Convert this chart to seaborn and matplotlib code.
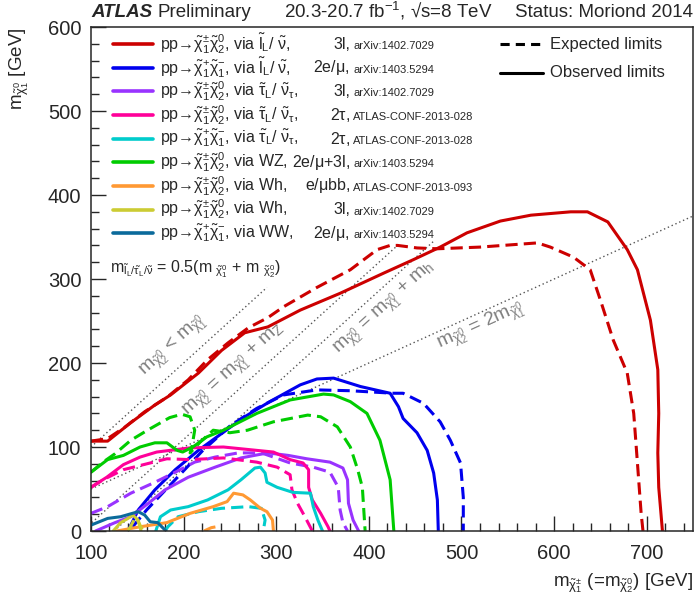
import numpy as np
import matplotlib
matplotlib.use("Agg")
import matplotlib.pyplot as plt
import seaborn as sns

# ---- exclusion contours (m_chi1pm, m_chi10) in GeV ----
slep3l_obs_x = [100, 118, 143, 169, 186, 216, 241, 266, 291, 326, 369, 416, 448, 477, 506, 542, 575, 618, 636, 658, 679, 690, 704, 712, 713, 712, 713, 717]
slep3l_obs_y = [107, 107, 129, 150, 162, 188, 215, 236, 243, 263, 283, 307, 323, 338, 355, 369, 376, 380, 380, 368, 335, 311, 251, 192, 140, 93, 52, 0]
slep3l_exp_x = [100, 118, 137, 158, 183, 205, 226, 248, 270, 291, 308, 344, 380, 409, 423, 431, 452, 474, 520, 582, 596, 621, 639, 650, 664, 679, 686, 690, 694, 696]
slep3l_exp_y = [107, 110, 124, 142, 160, 180, 204, 224, 242, 254, 267, 290, 311, 335, 340, 340, 337, 336, 338, 343, 338, 326, 311, 275, 227, 188, 140, 81, 21, 0]

slep2l_obs_x = [140, 151, 169, 191, 216, 241, 266, 293, 326, 344, 362, 391, 423, 432, 437, 452, 463, 470, 474, 475]
slep2l_obs_y = [0, 25, 49, 73, 96, 116, 136, 154, 174, 181, 182, 172, 164, 148, 134, 117, 96, 69, 37, 0]
slep2l_exp_x = [145, 160, 190, 220, 250, 279, 308, 344, 380, 426, 437, 459, 477, 488, 499, 502, 502]
slep2l_exp_y = [5, 25, 60, 95, 125, 146, 162, 168, 167, 164, 164, 152, 130, 108, 81, 40, 0]

stau3l_obs_x = [105, 126, 143, 162, 180, 205, 234, 262, 291, 313, 333, 358, 372, 377, 378, 383, 389]
stau3l_obs_y = [0, 10, 17, 33, 49, 64, 76, 87, 93, 90, 86, 82, 75, 61, 33, 13, 0]
stau3l_exp_x = [100, 118, 143, 169, 191, 212, 234, 259, 284, 315, 340, 358, 367, 369, 372, 377]
stau3l_exp_y = [21, 29, 45, 58, 70, 82, 88, 93, 93, 81, 76, 70, 52, 25, 10, 0]

stau2t_c2_obs_x = [100, 117, 135, 153, 171, 207, 243, 279, 297, 315, 329, 335, 335, 339, 348, 356, 358]
stau2t_c2_obs_y = [52, 64, 79, 88, 94, 99, 100, 96, 94, 85, 81, 73, 52, 37, 21, 5, 0]
stau2t_c2_exp_x = [100, 113, 135, 164, 182, 207, 243, 279, 301, 315, 317, 323, 331, 339]
stau2t_c2_exp_y = [52, 61, 73, 81, 86, 85, 87, 82, 76, 67, 49, 33, 17, 0]

stau2t_c1_obs_x = [170, 175, 186, 205, 226, 248, 262, 277, 283, 288, 290, 301, 318, 337, 340, 345, 350]
stau2t_c1_obs_y = [0, 17, 25, 29, 37, 49, 61, 75, 76, 69, 58, 52, 46, 45, 29, 13, 0]
stau2t_c1_exp_x = [180, 183, 194, 216, 241, 270, 284, 288, 286]
stau2t_c1_exp_y = [0, 5, 17, 23, 27, 29, 27, 13, 0]

wz_obs_x = [100, 118, 135, 153, 169, 182, 193, 199, 210, 225, 243, 279, 315, 351, 362, 380, 398, 412, 423, 427]
wz_obs_y = [70, 85, 90, 100, 105, 105, 96, 94, 100, 112, 120, 140, 156, 163, 162, 154, 140, 108, 61, 0]
wz_exp_x = [100, 113, 126, 143, 161, 185, 198, 207, 212, 209, 207, 218, 232, 250, 269, 297, 334, 348, 366, 380, 388, 393, 396]
wz_exp_y = [70, 82, 92, 108, 120, 135, 139, 136, 120, 100, 93, 106, 120, 117, 120, 130, 138, 136, 124, 100, 73, 52, 0]

whbb_obs_x = [128, 153, 182, 207, 232, 247, 254, 264, 272, 283, 290, 296, 297]
whbb_obs_y = [0, 5, 10, 21, 29, 35, 45, 43, 37, 27, 23, 13, 0]
whbb_exp_x = [222, 230, 240]
whbb_exp_y = [0, 4, 6]

wh3l_obs_x = [124, 132, 140, 145, 151, 154]
wh3l_obs_y = [0, 10, 15, 19, 13, 0]
wh3l_exp_x = [140, 145, 148, 153, 156]
wh3l_exp_y = [0, 10, 17, 7, 0]

ww_obs_x = [100, 118, 132, 151, 158, 164, 172, 181]
ww_obs_y = [7, 15, 17, 23, 19, 11, 10, 0]

colors = ["#cc0000", "#0000ee", "#9933ff", "#ff0099", "#00cccc",
          "#00cc00", "#ff9933", "#cccc33", "#0b6a9b"]

c1c2 = r"$\tilde{\chi}_1^{\pm}\tilde{\chi}_2^{0}$"
c1c1 = r"$\tilde{\chi}_1^{+}\tilde{\chi}_1^{-}$"
processes = [
    "pp→" + c1c2 + r", via $\tilde{l}_L$/ $\tilde{\nu}$,",
    "pp→" + c1c1 + r", via $\tilde{l}_L$/ $\tilde{\nu}$,",
    "pp→" + c1c2 + r", via $\tilde{\tau}_L$/ $\tilde{\nu}_{\tau}$,",
    "pp→" + c1c2 + r", via $\tilde{\tau}_L$/ $\tilde{\nu}_{\tau}$,",
    "pp→" + c1c1 + r", via $\tilde{\tau}_L$/ $\tilde{\nu}_{\tau}$,",
    "pp→" + c1c2 + ", via WZ,",
    "pp→" + c1c2 + ", via Wh,",
    "pp→" + c1c2 + ", via Wh,",
    "pp→" + c1c1 + ", via WW,",
]
channels = ["3l,", r"2e/$\mu$,", "3l,", r"2$\tau$,", r"2$\tau$,",
            r"2e/$\mu$+3l,", r"e/$\mu$bb,", "3l,", r"2e/$\mu$,"]
refs = ["arXiv:1402.7029", "arXiv:1403.5294", "arXiv:1402.7029",
        "ATLAS-CONF-2013-028", "ATLAS-CONF-2013-028", "arXiv:1403.5294",
        "ATLAS-CONF-2013-093", "arXiv:1402.7029", "arXiv:1403.5294"]

curves = [
    (0, slep3l_obs_x, slep3l_obs_y, "-"), (0, slep3l_exp_x, slep3l_exp_y, "--"),
    (1, slep2l_obs_x, slep2l_obs_y, "-"), (1, slep2l_exp_x, slep2l_exp_y, "--"),
    (2, stau3l_obs_x, stau3l_obs_y, "-"), (2, stau3l_exp_x, stau3l_exp_y, "--"),
    (3, stau2t_c2_obs_x, stau2t_c2_obs_y, "-"), (3, stau2t_c2_exp_x, stau2t_c2_exp_y, "--"),
    (4, stau2t_c1_obs_x, stau2t_c1_obs_y, "-"), (4, stau2t_c1_exp_x, stau2t_c1_exp_y, "--"),
    (5, wz_obs_x, wz_obs_y, "-"), (5, wz_exp_x, wz_exp_y, "--"),
    (6, whbb_obs_x, whbb_obs_y, "-"), (6, whbb_exp_x, whbb_exp_y, "--"),
    (7, wh3l_obs_x, wh3l_obs_y, "-"), (7, wh3l_exp_x, wh3l_exp_y, "--"),
    (8, ww_obs_x, ww_obs_y, "-"),
]

sns.set_style("ticks")
plt.rcParams["font.family"] = ["Liberation Sans", "DejaVu Sans"]
plt.rcParams["mathtext.fontset"] = "custom"
plt.rcParams["mathtext.rm"] = "Liberation Sans"
plt.rcParams["mathtext.it"] = "Liberation Sans"
plt.rcParams["mathtext.bf"] = "Liberation Sans:bold"

fig = plt.figure(figsize=(6.96, 6.10), dpi=100)
ax = fig.add_axes([0.1307, 0.1295, 0.865, 0.8262])

# kinematic reference lines
grid = np.array([100.0, 750.0])
dot = dict(ls=(0, (1, 2)), color="#555555", lw=1)
ax.plot([100, 290], [100, 290], **dot)
ax.plot([91, 434], [0, 343], **dot)
ax.plot([125, 470], [0, 345], **dot)
ax.plot(grid, grid / 2, **dot)

for idx, xs, ys, style in curves:
    dash = (0, (4, 2)) if style == "--" else "-"
    sns.lineplot(x=xs, y=ys, sort=False, estimator=None, ax=ax,
                 color=colors[idx], lw=2.2, linestyle=dash)

ax.set_xlim(100, 750)
ax.set_ylim(0, 600)
ax.set_xticks(range(100, 751, 100))
ax.set_yticks(range(0, 601, 100))
ax.set_xticks(range(100, 751, 20), minor=True)
ax.set_yticks(range(0, 601, 20), minor=True)
ax.tick_params(direction="in", which="major", length=11, width=1, labelsize=14.5)
ax.tick_params(axis="x", which="major", pad=9)
ax.tick_params(axis="y", which="major", pad=7)
ax.tick_params(direction="in", which="minor", length=5.5, width=1)
for s in ax.spines.values():
    s.set_linewidth(1.1)
ax.set_xlabel("")
ax.set_ylabel("")

# diagonal labels
gray = "#808080"
rot45 = 42.2
rot2 = 24.4
ax.text(189, 220, r"m$_{\tilde{\chi}_2^0}$ < m$_{\tilde{\chi}_1^0}$", rotation=rot45,
        color=gray, fontsize=14, ha="center", va="center")
ax.text(255, 191, r"m$_{\tilde{\chi}_2^0}$ = m$_{\tilde{\chi}_1^0}$ + m$_Z$", rotation=rot45,
        color=gray, fontsize=14, ha="center", va="center")
ax.text(417, 265, r"m$_{\tilde{\chi}_2^0}$ = m$_{\tilde{\chi}_1^0}$ + m$_h$", rotation=rot45,
        color=gray, fontsize=14, ha="center", va="center")
ax.text(521, 244, r"m$_{\tilde{\chi}_2^0}$ = 2m$_{\tilde{\chi}_1^0}$", rotation=rot2,
        color=gray, fontsize=14, ha="center", va="center")

ax.text(0.032, 0.52,
        r"m$_{\tilde{l}_L/\tilde{\tau}_L/\tilde{\nu}}$ = 0.5(m $_{\tilde{\chi}_1^0}$ + m $_{\tilde{\chi}_2^0}$)",
        transform=ax.transAxes, fontsize=11.5, va="center")

# legend, drawn row by row
row_y = np.linspace(0.966, 0.591, 9)
for i in range(9):
    ax.plot([0.0365, 0.103], [row_y[i]] * 2, transform=ax.transAxes, color=colors[i], lw=2.6)
    ax.text(0.115, row_y[i], processes[i], transform=ax.transAxes, fontsize=11.5, va="center")
    ax.text(0.43, row_y[i], channels[i], transform=ax.transAxes, fontsize=11.5, va="center", ha="right")
    ax.text(0.436, row_y[i] - 0.004, refs[i], transform=ax.transAxes, fontsize=8, va="center")

ax.plot([0.679, 0.751], [0.966, 0.966], transform=ax.transAxes, color="black", lw=2.2, ls=(0, (3, 2)))
ax.text(0.762, 0.966, "Expected limits", transform=ax.transAxes, fontsize=12, va="center")
ax.plot([0.679, 0.751], [0.909, 0.909], transform=ax.transAxes, color="black", lw=2.2)
ax.text(0.762, 0.909, "Observed limits", transform=ax.transAxes, fontsize=12, va="center")

# header
hy = 0.972
fig.text(0.131, hy, "ATLAS", fontsize=13.5, fontweight="bold", fontstyle="italic", va="baseline")
fig.text(0.227, hy, "Preliminary", fontsize=13.5, va="baseline")
fig.text(0.408, hy, r"20.3-20.7 fb$^{-1}$, √s=8 TeV", fontsize=13.5, va="baseline")
fig.text(0.996, hy, "Status: Moriond 2014", fontsize=13.5, va="baseline", ha="right")

# axis titles
fig.text(0.028, 0.955, r"m$_{\tilde{\chi}_1^0}$ [GeV]", rotation=90, fontsize=13.5, ha="center", va="top")
fig.text(0.996, 0.038, r"m$_{\tilde{\chi}_1^{\pm}}$ (=m$_{\tilde{\chi}_2^0}$) [GeV]", fontsize=13.5,
         ha="right", va="baseline")

fig.savefig("out.png", dpi=100)
